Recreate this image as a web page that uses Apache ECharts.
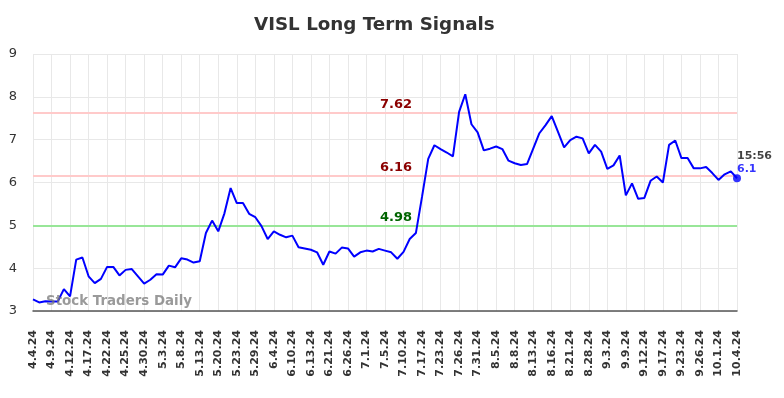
<!DOCTYPE html>
<html>
<head>
<meta charset="utf-8">
<script src="https://cdn.jsdelivr.net/npm/echarts@6/dist/echarts.min.js"></script>
<style>
  html, body { margin: 0; padding: 0; background: #fff; }
</style>
</head>
<body>
<div id="main" style="width: 784px; height: 398px;"></div>
<script>
// tick labels (one every 3 trading days)
var tickLabels = ['4.4.24', '4.9.24', '4.12.24', '4.17.24', '4.22.24', '4.25.24', '4.30.24', '5.3.24', '5.8.24', '5.13.24',
  '5.20.24', '5.23.24', '5.29.24', '6.4.24', '6.10.24', '6.13.24', '6.21.24', '6.26.24', '7.1.24', '7.5.24',
  '7.10.24', '7.17.24', '7.23.24', '7.26.24', '7.31.24', '8.5.24', '8.8.24', '8.13.24', '8.16.24', '8.21.24',
  '8.28.24', '9.3.24', '9.9.24', '9.12.24', '9.17.24', '9.23.24', '9.26.24', '10.1.24', '10.4.24'];

// closing prices
var prices = [
  3.27, 3.20, 3.23, 3.22, 3.22, 3.51, 3.34, 4.20, 4.25, 3.81,
  3.65, 3.75, 4.03, 4.03, 3.83, 3.96, 3.98, 3.81, 3.64, 3.73,
  3.86, 3.85, 4.06, 4.02, 4.23, 4.20, 4.13, 4.16, 4.82, 5.11,
  4.86, 5.28, 5.87, 5.52, 5.52, 5.27, 5.19, 4.98, 4.68, 4.86,
  4.78, 4.72, 4.76, 4.49, 4.46, 4.43, 4.37, 4.08, 4.39, 4.34,
  4.48, 4.46, 4.27, 4.37, 4.41, 4.39, 4.45, 4.41, 4.37, 4.22,
  4.38, 4.68, 4.82, 5.67, 6.55, 6.87, 6.78, 6.70, 6.61, 7.65,
  8.06, 7.36, 7.17, 6.75, 6.79, 6.84, 6.78, 6.51, 6.45, 6.41,
  6.43, 6.79, 7.15, 7.34, 7.55, 7.19, 6.82, 6.99, 7.07, 7.03,
  6.68, 6.88, 6.72, 6.32, 6.40, 6.63, 5.70, 5.98, 5.62, 5.64,
  6.04, 6.14, 6.00, 6.88, 6.98, 6.57, 6.57, 6.33, 6.33, 6.36,
  6.22, 6.06, 6.19, 6.26, 6.10
];

// signal levels
var resistanceLevels = [7.62, 6.16];
var supportLevels = [4.98];
var lastTime = '15:56';
var lastPrice = 6.1;

// build the full category list: each tick label followed by two unlabeled days
var categories = [];
tickLabels.forEach(function (t, i) {
  categories.push(t);
  if (i < tickLabels.length - 1) {
    categories.push('');
    categories.push('');
  }
});

var lastIdx = prices.length - 1;
var lastPoint = prices.map(function (v, i) { return i === lastIdx ? v : '-'; });

var font = 'DejaVu Sans';

var markData = [];
resistanceLevels.forEach(function (v) {
  markData.push({
    yAxis: v,
    lineStyle: { color: '#ffcaca', width: 2, type: 'solid' },
    label: { color: '#8b0000' }
  });
});
supportLevels.forEach(function (v) {
  markData.push({
    yAxis: v,
    lineStyle: { color: '#98e698', width: 2, type: 'solid' },
    label: { color: '#006400' }
  });
});

var myChart = echarts.init(document.getElementById('main'));

myChart.setOption({
  animation: false,
  backgroundColor: '#fff',
  textStyle: { fontFamily: font },
  title: {
    text: 'VISL Long Term Signals',
    left: 254,
    top: 16,
    padding: 0,
    textStyle: { fontFamily: font, fontSize: 18.3, fontWeight: 'bold', color: '#333' }
  },
  graphic: [{
    type: 'text',
    left: 46,
    top: 295,
    z: 100,
    style: {
      text: 'Stock Traders Daily',
      fontFamily: font,
      fontSize: 13.4,
      fontWeight: 'bold',
      fill: 'rgba(120,120,120,0.75)'
    }
  }],
  grid: { left: 33, right: 47, top: 54, bottom: 87 },
  xAxis: {
    type: 'category',
    data: categories,
    boundaryGap: false,
    axisLine: { lineStyle: { color: '#555', width: 1.5 } },
    axisTick: { show: false },
    axisLabel: {
      interval: 2,
      rotate: 90,
      margin: 19,
      fontFamily: font,
      fontSize: 11,
      fontWeight: 'bold',
      color: '#333'
    },
    splitLine: { show: true, interval: 2, lineStyle: { color: '#e8e8e8', width: 1 } }
  },
  yAxis: {
    type: 'value',
    min: 3,
    max: 9,
    interval: 1,
    axisLine: { show: false },
    axisTick: { show: false },
    axisLabel: { fontFamily: font, fontSize: 13, color: '#333', margin: 16 },
    splitLine: { lineStyle: { color: '#e8e8e8', width: 1 } }
  },
  series: [{
    type: 'line',
    data: prices,
    showSymbol: false,
    symbol: 'none',
    lineStyle: { color: '#0000ff', width: 2 },
    itemStyle: { color: '#0000ff' },
    z: 5,
    markLine: {
      silent: true,
      symbol: 'none',
      z: 3,
      label: {
        show: true,
        position: 'insideMiddleTop',
        distance: 2,
        offset: [11, 0],
        fontFamily: font,
        fontSize: 13,
        fontWeight: 'bold',
        formatter: function (p) { return p.value; }
      },
      data: markData
    }
  }, {
    type: 'scatter',
    data: lastPoint,
    symbol: 'circle',
    symbolSize: 8,
    itemStyle: { color: '#0000ff' },
    z: 6,
    label: {
      show: true,
      position: [4, -25],
      fontFamily: font,
      formatter: function () { return '{t|' + lastTime + '}\n{v|' + lastPrice + '}'; },
      rich: {
        t: { color: '#111', fontSize: 11, fontWeight: 'bold', lineHeight: 13 },
        v: { color: '#0000ff', fontSize: 11, fontWeight: 'bold', lineHeight: 13 }
      }
    }
  }]
});
</script>
</body>
</html>
